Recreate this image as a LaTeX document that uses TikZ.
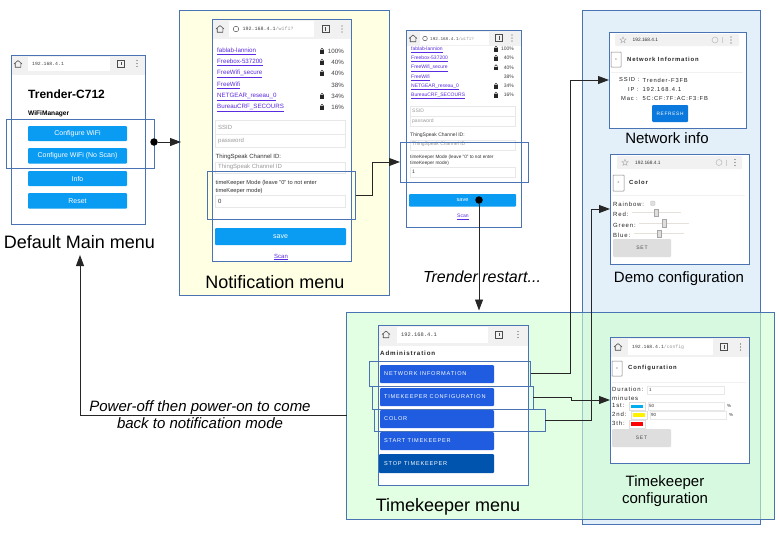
\documentclass[tikz,border=0pt]{standalone}
\usepackage{fontspec}
\usepackage{tikz}
\usetikzlibrary{arrows.meta}
\setmainfont{Liberation Sans}
\newfontfamily\spacedfont[LetterSpace=14]{Liberation Sans}
\newfontfamily\urlfont{Liberation Mono}

\definecolor{frameblue}{HTML}{4A73B4}
\definecolor{panelyellow}{HTML}{FFFFE4}
\definecolor{panelblue}{HTML}{E3F0FA}
\definecolor{panelgreen}{HTML}{D0FFD0}
\definecolor{headgray}{HTML}{F1F1F1}
\definecolor{wifiblue}{HTML}{0A9BF2}
\definecolor{adminblue}{HTML}{1F5CE0}
\definecolor{stopblue}{HTML}{0054AD}
\definecolor{refreshblue}{HTML}{0A78DC}
\definecolor{linkpurple}{HTML}{5A2BE0}
\definecolor{softgray}{HTML}{DEDEDE}
\definecolor{fieldgray}{HTML}{E8E8E8}
\definecolor{hintgray}{HTML}{9A9A9A}
\definecolor{trackgray}{HTML}{E6E0DA}

\tikzset{
  panelbox/.style={draw=frameblue,line width=0.9pt},
  phonebox/.style={draw=frameblue,line width=0.9pt,fill=white},
  markbox/.style={draw=frameblue,line width=0.9pt},
  headbox/.style={fill=headgray},
  urlbox/.style={fill=white},
  fieldbox/.style={draw=fieldgray,line width=0.6pt,fill=white},
  wifibtn/.style={fill=wifiblue,rounded corners=1pt,text=white,font=\fontsize{7}{7}\selectfont},
  adminbtn/.style={fill=adminblue,rounded corners=1pt},
  graybtn/.style={fill=softgray,rounded corners=1pt,text=black!70,font=\spacedfont\fontsize{5}{5}\selectfont},
  backbox/.style={draw=black!50,line width=0.5pt,rounded corners=0.5pt,fill=white,font=\fontsize{3}{3}\selectfont},
  lbl/.style={inner sep=0pt,anchor=west,text=black!80,font=\fontsize{#1}{#1}\selectfont},
  urllbl/.style={inner sep=0pt,anchor=west,text=black!75,font=\urlfont\fontsize{#1}{#1}\selectfont},
  spaced/.style={inner sep=0pt,anchor=west,text=black!85,font=\spacedfont\fontsize{#1}{#1}\selectfont},
  pct/.style={inner sep=0pt,anchor=east,text=black!75,font=\fontsize{#1}{#1}\selectfont},
  caption/.style={inner sep=0pt,align=center,text=black,font=\fontsize{#1}{17}\selectfont},
  note/.style={inner sep=0pt,align=center,text=black,font=\itshape\fontsize{#1}{17}\selectfont},
  link/.style={draw=black!85,line width=0.9pt,-{Triangle[length=11pt,width=8pt]}},
  dot/.style={circle,fill=black,inner sep=0pt,minimum size=7.5pt},
}

% box from its corners: style, name, x0, y0, x1, y1, text
\newcommand{\pxbox}[7]{%
  \node[inner sep=0pt,outer sep=0pt,anchor=north west,minimum width={(#5-#3)*1pt},minimum height={(#6-#4)*1pt},#1] (#2) at (#3,#4) {#7};}
\newcommand{\homeicon}[2]{%
  \draw[black!70,line width=0.6pt,line join=round] (#1-4,#2) -- (#1,#2-3.5) -- (#1+4,#2) (#1-2.8,#2-1) -- (#1-2.8,#2+3.2) -- (#1+2.8,#2+3.2) -- (#1+2.8,#2-1);}
\newcommand{\tabicon}[2]{%
  \draw[black!70,line width=0.6pt] (#1-3.5,#2-3.5) rectangle (#1+3.5,#2+3.5);
  \fill[black!70] (#1-0.4,#2-1.8) rectangle (#1+0.4,#2+1.8);}
\newcommand{\dotsicon}[2]{%
  \fill[black!65] (#1,#2-3) circle (0.7) (#1,#2) circle (0.7) (#1,#2+3) circle (0.7);}
\newcommand{\lockicon}[2]{%
  \fill[black!85] (#1-2,#2-0.8) rectangle (#1+2,#2+2.6);
  \draw[black!85,line width=0.6pt] (#1-1.2,#2-0.8) -- (#1-1.2,#2-1.6) arc (180:0:1.2 and -1.2) -- (#1+1.2,#2-0.8);}
\newcommand{\staricon}[2]{%
  \draw[black!35,line width=0.4pt] (#1,#2-3.2) -- (#1+0.9,#2-1) -- (#1+3.2,#2-1) -- (#1+1.4,#2+0.5) -- (#1+2,#2+2.8) -- (#1,#2+1.4) -- (#1-2,#2+2.8) -- (#1-1.4,#2+0.5) -- (#1-3.2,#2-1) -- (#1-0.9,#2-1) -- cycle;}
\newcommand{\reloadicon}[2]{%
  \draw[black!25,line width=0.6pt] (#1,#2) circle (3);
  \draw[black!20,line width=0.4pt] (#1+7,#2-3) -- (#1+7,#2+3);
  \dotsicon{#1+16}{#2}}
% one wifi line: name, x of link, x of lock, x of percent, y, size, text, percent
\newcommand{\wifirow}[8]{%
  \node[lbl=#6,text=linkpurple,text height=#6*0.75pt,text depth=#6*0.25pt] (#1name) at (#2,#5) {\underline{#7}};
  \node[pct=#6] (#1pct) at (#4,#5) {#8};
  \ifx\relax#3\relax\else\lockicon{#3}{#5}\fi}

\begin{document}
\begin{tikzpicture}[x=1pt,y=-1pt]
  \useasboundingbox (0,0) rectangle (780,536);

  % panels
  \pxbox{panelbox,fill=panelblue}{panelnet}{582}{10}{760.5}{524.5}{}
  \pxbox{panelbox,fill=panelgreen,fill opacity=0.6}{paneltime}{346.5}{312}{774.5}{519.5}{}
  \pxbox{panelbox,fill=panelyellow}{panelnotif}{179.5}{10}{389}{295}{}

  % default main menu
  \pxbox{phonebox}{phonemain}{11}{55}{145}{224}{}
  \pxbox{headbox}{headmain}{11.5}{55.5}{144.5}{75}{}
  \pxbox{urlbox}{urlmain}{28}{57}{110}{71}{}
  \homeicon{18}{64}
  \node[urllbl=4.8] (urltextmain) at (32,64) {192.168.4.1};
  \tabicon{121}{63.5}
  \dotsicon{137}{63.5}
  \node[lbl=12,font=\bfseries\fontsize{12}{12}\selectfont,text=black] (titlemain) at (28,94) {Trender-C712};
  \node[lbl=7,font=\bfseries\fontsize{6.6}{7}\selectfont,text=black] (subtitlemain) at (28,114) {WiFiManager};
  \pxbox{wifibtn}{btnconfig}{28}{126}{127}{141}{Configure WiFi}
  \pxbox{wifibtn}{btnnoscan}{28}{148}{127}{163.5}{Configure WiFi (No Scan)}
  \pxbox{wifibtn}{btninfo}{28}{171}{127}{186}{Info}
  \pxbox{wifibtn}{btnreset}{28}{193}{127}{208.5}{Reset}
  \pxbox{markbox}{markmain}{6.5}{119.5}{154}{168}{}
  \node[caption=18] (captionmain) at (79.5,242) {Default Main menu};

  % notification menu
  \pxbox{phonebox}{phonenotif}{212}{19}{351}{261}{}
  \pxbox{headbox}{headnotif}{212.5}{19.5}{350.5}{39}{}
  \pxbox{urlbox}{urlnotif}{229}{21}{314}{37}{}
  \homeicon{220}{29}
  \draw[black!65,line width=0.5pt] (236,29) circle (2.8);
  \node[urllbl=5] (urltextnotif) at (242.5,29) {192.168.4.1\textcolor{hintgray}{/wifi?}};
  \tabicon{325.5}{29}
  \dotsicon{342}{29}
  \wifirow{fablab}{217}{322}{344}{51}{6.2}{fablab-lannion}{100\%}
  \wifirow{freebox}{217}{322}{344}{62}{6.2}{Freebox-537200}{40\%}
  \wifirow{secure}{217}{322}{344}{73}{6.2}{FreeWifi\_secure}{40\%}
  \wifirow{freewifi}{217}{}{344}{85}{6.2}{FreeWifi}{38\%}
  \wifirow{netgear}{217}{322}{344}{96}{6.2}{NETGEAR\_reseau\_0}{34\%}
  \wifirow{bureau}{217}{322}{344}{107}{6.2}{BureauCRF\_SECOURS}{16\%}
  \pxbox{fieldbox}{ssidnotif}{215.5}{120.5}{345}{134}{}
  \pxbox{fieldbox}{passnotif}{215.5}{134}{345}{147}{}
  \node[lbl=6,text=hintgray] (ssidtextnotif) at (218,127) {SSID};
  \node[lbl=6,text=hintgray] (passtextnotif) at (218,140.5) {password};
  \node[lbl=6] (speaklabelnotif) at (215.5,157) {ThingSpeak Channel ID:};
  \pxbox{fieldbox}{speaknotif}{215.5}{162}{345}{173}{}
  \node[lbl=6,text=hintgray] (speaktextnotif) at (218,167) {ThingSpeak Channel ID};
  \node[lbl=5.7] (modeonenotif) at (215.5,183) {timeKeeper Mode (leave "0" to not enter};
  \node[lbl=5.7] (modetwonotif) at (215.5,191) {timeKeeper mode)};
  \pxbox{fieldbox}{modenotif}{215.5}{195}{345}{207}{}
  \node[lbl=6] (modetextnotif) at (218,201) {0};
  \pxbox{wifibtn}{savenotif}{215}{228}{346}{245}{save}
  \node[lbl=6,text=linkpurple] (scannotif) at (274,257) {\underline{Scan}};
  \pxbox{markbox}{marknotif}{207.5}{171}{355.5}{219}{}
  \node[caption=18] (captionnotif) at (275,282) {Notification menu};

  % same menu, mode set to 1
  \pxbox{phonebox}{phonemode}{406}{30}{521}{227}{}
  \pxbox{headbox}{headmode}{406.5}{30.5}{520.5}{46}{}
  \pxbox{urlbox}{urlmode}{420}{32}{489}{45}{}
  \homeicon{413}{38.5}
  \draw[black!65,line width=0.5pt] (425,38.5) circle (2.3);
  \node[urllbl=4.3] (urltextmode) at (430,38.5) {192.168.4.1\textcolor{hintgray}{/wifi?}};
  \tabicon{499}{38}
  \dotsicon{512}{38}
  \wifirow{fablabm}{411}{496}{514}{49}{5}{fablab-lannion}{100\%}
  \wifirow{freeboxm}{411}{496}{514}{58}{5}{Freebox-537200}{40\%}
  \wifirow{securem}{411}{496}{514}{67.5}{5}{FreeWifi\_secure}{40\%}
  \wifirow{freewifim}{411}{}{514}{77}{5}{FreeWifi}{38\%}
  \wifirow{netgearm}{411}{496}{514}{86}{5}{NETGEAR\_reseau\_0}{34\%}
  \wifirow{bureaum}{411}{496}{514}{95}{5}{BureauCRF\_SECOURS}{16\%}
  \pxbox{fieldbox}{ssidmode}{410}{106}{515}{116}{}
  \pxbox{fieldbox}{passmode}{410}{116}{515}{126}{}
  \node[lbl=5,text=hintgray] (ssidtextmode) at (412,111) {SSID};
  \node[lbl=5,text=hintgray] (passtextmode) at (412,121) {password};
  \node[lbl=5] (speaklabelmode) at (410,135) {ThingSpeak Channel ID:};
  \pxbox{fieldbox}{speakmode}{410}{140}{515}{150}{}
  \node[lbl=5,text=hintgray] (speaktextmode) at (412,144) {ThingSpeak Channel ID};
  \node[lbl=4.7] (modeonemode) at (410,157) {timeKeeper Mode (leave "0" to not enter};
  \node[lbl=4.7] (modetwomode) at (410,163) {timeKeeper mode)};
  \pxbox{fieldbox}{modemode}{410}{167}{515}{177}{}
  \node[lbl=5] (modetextmode) at (412,172) {1};
  \pxbox{wifibtn,font=\fontsize{5.5}{5.5}\selectfont}{savemode}{409}{194}{516}{206.5}{save}
  \node[lbl=5,text=linkpurple] (scanmode) at (457,217) {\underline{Scan}};
  \pxbox{markbox}{markmode}{400}{142}{528}{182}{}
  \node[note=16] (noterestart) at (482,277) {Trender restart...};

  % network info
  \pxbox{phonebox}{phonenet}{609}{32}{746}{128}{}
  \pxbox{fill=headgray,rounded corners=1pt}{headnet}{615}{34}{739}{46}{}
  \staricon{623}{40}
  \node[lbl=4.8] (urltextnet) at (632.5,40) {192.168.4.1};
  \reloadicon{715}{40}
  \pxbox{backbox}{backnet}{611}{52}{621}{67}{<}
  \node[spaced=5.9,font=\spacedfont\bfseries\fontsize{5.9}{5.9}\selectfont] (titlenet) at (627,59) {Network Information};
  \draw[headgray,line width=0.6pt] (611,72) -- (743,72);
  \node[spaced=5.8] (ssidnet) at (619,80) {SSID :};
  \node[spaced=5.8] (ssidvalnet) at (642.5,80) {Trender-F3FB};
  \node[spaced=5.8] (ipnet) at (628,90) {IP :};
  \node[spaced=5.8] (ipvalnet) at (642.5,90) {192.168.4.1};
  \node[spaced=5.8] (macnet) at (621,99) {Mac :};
  \node[spaced=5.8] (macvalnet) at (642.5,99) {5C:CF:7F:AC:F3:FB};
  \pxbox{fill=refreshblue,rounded corners=1pt,text=white,font=\spacedfont\fontsize{4.8}{4.8}\selectfont}{btnrefresh}{652}{105}{688}{122}{REFRESH}
  \node[caption=15] (captionnet) at (667,138) {Network info};

  % demo configuration
  \pxbox{phonebox}{phonedemo}{610}{154}{749}{264}{}
  \pxbox{fill=headgray,rounded corners=1pt}{headdemo}{617}{156}{742}{169}{}
  \staricon{625}{162.5}
  \node[lbl=4.8] (urltextdemo) at (635,162.5) {192.168.4.1};
  \reloadicon{719}{162.5}
  \pxbox{backbox}{backdemo}{613}{175}{624}{191}{<}
  \node[spaced=5.9,font=\spacedfont\bfseries\fontsize{5.9}{5.9}\selectfont] (titledemo) at (629,182) {Color};
  \draw[headgray,line width=0.6pt] (613,195) -- (745,195);
  \node[spaced=6] (rainbow) at (613,204) {Rainbow:};
  \pxbox{fill=softgray,draw=black!25,line width=0.4pt,rounded corners=0.8pt}{checkrainbow}{650.5}{201}{655}{205.5}{}
  \node[spaced=6] (redlabel) at (613,214) {Red:};
  \draw[trackgray,line width=1pt] (632,212.5) -- (681,212.5);
  \pxbox{fill=softgray,draw=black!35,line width=0.4pt}{thumbred}{654}{209}{658}{216}{}
  \node[spaced=6] (greenlabel) at (613,225) {Green:};
  \draw[trackgray,line width=1pt] (639,223) -- (689,223);
  \pxbox{fill=softgray,draw=black!35,line width=0.4pt}{thumbgreen}{662}{219.5}{666}{227}{}
  \node[spaced=6] (bluelabel) at (613,235) {Blue:};
  \draw[trackgray,line width=1pt] (634,233) -- (684,233);
  \pxbox{fill=softgray,draw=black!35,line width=0.4pt}{thumbblue}{657}{230}{661}{237.5}{}
  \pxbox{graybtn}{setdemo}{613}{239}{671}{257}{SET}
  \node[caption=15] (captiondemo) at (679,279) {Demo configuration};

  % timekeeper configuration
  \pxbox{phonebox}{phoneconf}{610}{337}{749}{463}{}
  \pxbox{headbox}{headconf}{610.5}{337.5}{748.5}{357}{}
  \pxbox{urlbox}{urlconf}{628}{339}{713}{355}{}
  \homeicon{618}{347}
  \node[urllbl=4.8] (urltextconf) at (632,347) {192.168.4.1\textcolor{hintgray}{/config}};
  \tabicon{724}{347}
  \dotsicon{740.5}{347}
  \pxbox{backbox}{backconf}{612}{361}{622}{376}{<}
  \node[spaced=5.9,font=\spacedfont\bfseries\fontsize{5.9}{5.9}\selectfont] (titleconf) at (628,368) {Configuration};
  \draw[headgray,line width=0.6pt] (612,382) -- (746,382);
  \node[spaced=6] (durationlabel) at (612,389.5) {Duration:};
  \pxbox{fieldbox}{durationfield}{647}{386}{724}{394}{}
  \node[lbl=4.5] (durationval) at (649,390) {1};
  \node[spaced=6] (minuteslabel) at (612,398) {minutes};
  \node[spaced=6] (firstlabel) at (612,405.5) {1st:};
  \pxbox{fill=white,draw=softgray,line width=1pt}{firstbtn}{629}{402.5}{645}{410}{}
  \pxbox{fill=cyan}{firstcolor}{631}{404.5}{643}{408}{}
  \pxbox{fieldbox}{firstfield}{648}{402}{724}{410}{}
  \node[lbl=4.5] (firstval) at (649,406) {50};
  \node[lbl=4.5] (firstpct) at (727,406) {\%};
  \node[spaced=6] (secondlabel) at (612,414.5) {2nd:};
  \pxbox{fill=white,draw=softgray,line width=1pt}{secondbtn}{631}{411}{647}{419}{}
  \pxbox{fill=yellow}{secondcolor}{633}{413}{645}{417}{}
  \pxbox{fieldbox}{secondfield}{650}{411}{726}{419}{}
  \node[lbl=4.5] (secondval) at (651,415) {90};
  \node[lbl=4.5] (secondpct) at (729,415) {\%};
  \node[spaced=6] (thirdlabel) at (612,423.5) {3th:};
  \pxbox{fill=white,draw=softgray,line width=1pt}{thirdbtn}{629}{420}{645}{428}{}
  \pxbox{fill=red}{thirdcolor}{631}{422}{643}{426}{}
  \pxbox{graybtn}{setconf}{612}{429}{671}{447}{SET}
  \node[caption=15] (captionconf) at (665,491.5) {Timekeeper\\configuration};

  % timekeeper menu
  \pxbox{phonebox}{phonetime}{378}{325}{528}{485}{}
  \pxbox{headbox}{headtime}{378.5}{325.5}{527.5}{346}{}
  \pxbox{urlbox}{urltime}{397}{327}{488}{343}{}
  \homeicon{386}{334.5}
  \node[urllbl=5.4] (urltexttime) at (401,334.5) {192.168.4.1};
  \tabicon{499}{334.5}
  \dotsicon{518}{334.5}
  \node[spaced=6.2,font=\spacedfont\bfseries\fontsize{6.2}{6.2}\selectfont] (titletime) at (380,353.5) {Administration};
  \pxbox{adminbtn}{btnnetwork}{380}{365}{494}{383}{}
  \pxbox{adminbtn}{btnkeeper}{380}{388}{494}{406}{}
  \pxbox{adminbtn}{btncolor}{380}{410}{494}{428}{}
  \pxbox{adminbtn}{btnstart}{380}{432}{494}{450}{}
  \pxbox{adminbtn,fill=stopblue}{btnstop}{379}{454}{494}{473}{}
  \node[spaced=5.6,text=white] (textnetwork) at (384,374) {NETWORK INFORMATION};
  \node[spaced=5.6,text=white] (textkeeper) at (384,396.5) {TIMEKEEPER CONFIGURATION};
  \node[spaced=5.6,text=white] (textcolor) at (384,418.5) {COLOR};
  \node[spaced=5.6,text=white] (textstart) at (384,441) {START TIMEKEEPER};
  \node[spaced=5.6,text=white] (textstop) at (384,463.5) {STOP TIMEKEEPER};
  \pxbox{markbox}{marknetwork}{369}{361}{530.5}{386}{}
  \pxbox{markbox}{markkeeper}{372}{386}{533}{409}{}
  \pxbox{markbox}{markcolor}{374.5}{409}{545}{431}{}
  \node[caption=18] (captiontime) at (448,507) {Timekeeper menu};

  % connectors
  \node[dot] (dotmain) at (154,142) {};
  \node[dot] (dotsave) at (479,200) {};
  \coordinate (notifin) at (181,142);
  \coordinate (timein) at (479,310.5);
  \coordinate (poweroff) at (346.5,415.5);
  \coordinate (mainin) at (80,255);
  \draw[link] (dotmain) -- (notifin);
  \draw[link] (marknotif.east) -- ++(16.5,0) |- (markmode.west);
  \draw[link] (dotsave) -- (timein);
  \draw[link] (marknetwork.east) -- ++(39.5,0) |- (phonenet.west);
  \draw[link] (markkeeper.east) -- ++(38,0) |- (phoneconf.west);
  \draw[link] (markcolor.east) -- ++(46,0) |- (phonedemo.west);
  \draw[link] (poweroff) -| (mainin);
  \node[note=15] (notepower) at (200,415) {Power-off then power-on to come\\back to notification mode};
\end{tikzpicture}
\end{document}
